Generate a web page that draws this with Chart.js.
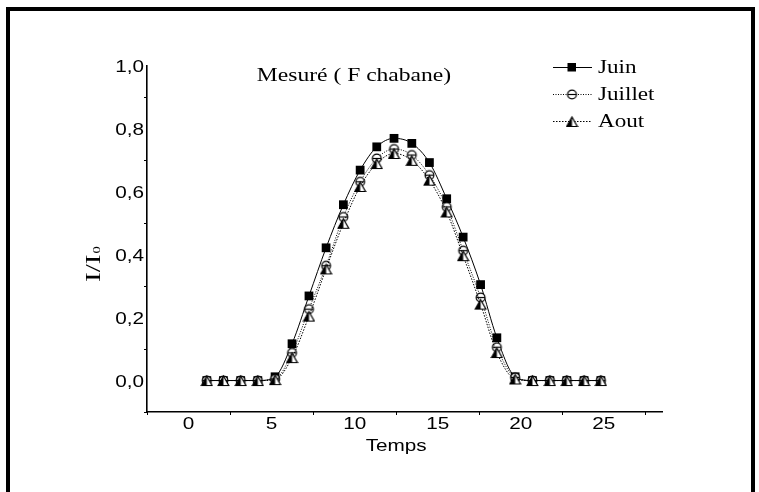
<!DOCTYPE html>
<html>
<head>
<meta charset="utf-8">
<script src="https://cdn.jsdelivr.net/npm/chart.js@4"></script>
<style>
  html, body { margin: 0; padding: 0; background: #fff; }
  #wrap { position: relative; width: 759px; height: 492px; overflow: hidden; }
  #frame { position: absolute; left: 6px; top: 7px; width: 749px; height: 600px; border: 4px solid #000; box-sizing: border-box; }
  #c { position: absolute; left: 0; top: 0; }
</style>
</head>
<body>
<div id="wrap">
  <div id="frame"></div>
  <canvas id="c" width="759" height="492"></canvas>
</div>
<script>
// Position of each reading on the Temps axis
const temps = [1.10, 2.10, 3.14, 4.17, 5.21, 6.23, 7.25, 8.28, 9.32, 10.33, 11.33, 12.37,
               13.44, 14.50, 15.54, 16.53, 17.58, 18.56, 19.66, 20.70, 21.75, 22.77, 23.81, 24.82];

// Measured relative intensity I/I0 per month
const juin    = [0, 0, 0, 0, 0.012, 0.117, 0.269, 0.422, 0.559, 0.669, 0.743, 0.770, 0.754, 0.693, 0.578, 0.456, 0.305, 0.136, 0.012, 0, 0, 0, 0, 0];
const juillet = [0, 0, 0, 0, 0.005, 0.088, 0.227, 0.365, 0.520, 0.632, 0.706, 0.736, 0.717, 0.653, 0.552, 0.413, 0.264, 0.106, 0.010, 0, 0, 0, 0, 0];
const aout    = [0, 0, 0, 0, 0.003, 0.073, 0.205, 0.355, 0.500, 0.617, 0.690, 0.722, 0.700, 0.637, 0.536, 0.397, 0.243, 0.089, 0.005, 0, 0, 0, 0, 0];

const seriesNames = ['Juin', 'Juillet', 'Aout'];
const xTickValues = [0, 5, 10, 15, 20, 25];
const yTickValues = [0, 0.2, 0.4, 0.6, 0.8, 1.0];

const chartTitle = 'Mesuré ( F chabane)';
const xTitle = 'Temps';

const SANS = '"Liberation Sans", Arial, sans-serif';
const SERIF = '"Liberation Serif", "Times New Roman", serif';
const fmtY = v => v.toFixed(1).replace('.', ',');
const fmtX = v => String(v);

// Open circle crossed by a horizontal bar
function circleMarker() {
  const s = 13, c = document.createElement('canvas');
  c.width = s; c.height = s;
  const g = c.getContext('2d');
  g.fillStyle = '#fff'; g.strokeStyle = '#000'; g.lineWidth = 1.2;
  g.beginPath(); g.arc(6.5, 6.5, 4.4, 0, Math.PI * 2); g.fill(); g.stroke();
  g.beginPath(); g.moveTo(2.2, 6.5); g.lineTo(10.8, 6.5); g.stroke();
  return c;
}
// Triangle, left half filled
function triangleMarker() {
  const s = 13, c = document.createElement('canvas');
  c.width = s; c.height = s;
  const g = c.getContext('2d');
  const tri = () => { g.beginPath(); g.moveTo(6.5, 2); g.lineTo(11.8, 11.5); g.lineTo(1.2, 11.5); g.closePath(); };
  g.fillStyle = '#fff'; g.strokeStyle = '#000'; g.lineWidth = 1.2;
  tri(); g.fill();
  g.fillStyle = '#000';
  g.beginPath(); g.moveTo(6.5, 2); g.lineTo(6.5, 11.5); g.lineTo(1.2, 11.5); g.closePath(); g.fill();
  tri(); g.stroke();
  return c;
}

const toPoints = arr => temps.map((t, i) => ({ x: t, y: arr[i] }));

const datasets = [
  { label: seriesNames[0], data: toPoints(juin), borderColor: '#000', backgroundColor: '#000', borderWidth: 1,
    pointStyle: 'rect', pointRadius: 6.2, pointBorderWidth: 0, cubicInterpolationMode: 'monotone', order: 3 },
  { label: seriesNames[1], data: toPoints(juillet), borderColor: '#000', backgroundColor: '#fff', borderWidth: 1,
    borderDash: [1, 1.5], pointStyle: circleMarker(), pointRadius: 6, cubicInterpolationMode: 'monotone', order: 2 },
  { label: seriesNames[2], data: toPoints(aout), borderColor: '#000', backgroundColor: '#fff', borderWidth: 1,
    borderDash: [1.5, 1.5], pointStyle: triangleMarker(), pointRadius: 6, cubicInterpolationMode: 'monotone', order: 1 }
];

// Text drawn with a slight horizontal widening
function wideText(ctx, str, x, y, font, align, sx) {
  ctx.save();
  ctx.font = font;
  const w = ctx.measureText(str).width * sx;
  const x0 = align === 'center' ? x - w / 2 : align === 'right' ? x - w : x;
  ctx.translate(x0, y);
  ctx.scale(sx, 1);
  ctx.textAlign = 'left';
  ctx.textBaseline = 'alphabetic';
  ctx.fillText(str, 0, 0);
  ctx.restore();
}

// Tick labels, minor ticks, titles and legend
const decorations = {
  id: 'decorations',
  afterDraw(chart) {
    const { ctx, chartArea: a, scales: { x, y } } = chart;
    const SX = 1.22;
    ctx.save();
    ctx.strokeStyle = '#000';
    ctx.fillStyle = '#000';
    ctx.lineWidth = 1;
    // minor ticks
    const yStep = yTickValues[1] - yTickValues[0];
    for (let v = yTickValues[0] - yStep / 2; v < y.max; v += yStep) {
      if (v < y.min) continue;
      const py = Math.round(y.getPixelForValue(v)) + 0.5;
      ctx.beginPath(); ctx.moveTo(a.left - 3, py); ctx.lineTo(a.left, py); ctx.stroke();
    }
    const xStep = xTickValues[1] - xTickValues[0];
    for (let v = xTickValues[0] - xStep / 2; v < x.max; v += xStep) {
      if (v < x.min) continue;
      const px = Math.round(x.getPixelForValue(v)) + 0.5;
      ctx.beginPath(); ctx.moveTo(px, a.bottom); ctx.lineTo(px, a.bottom + 3); ctx.stroke();
    }
    // tick labels
    const tickFont = '17px ' + SANS;
    y.ticks.forEach(t => {
      const py = y.getPixelForValue(t.value);
      wideText(ctx, t.label != null ? t.label : fmtY(t.value), a.left - 3, py + 6, tickFont, 'right', SX);
    });
    x.ticks.forEach(t => {
      const px = x.getPixelForValue(t.value);
      wideText(ctx, t.label != null ? String(t.label) : fmtX(t.value), px, a.bottom + 16.5, tickFont, 'center', SX);
    });
    // axis title
    wideText(ctx, xTitle, x.getPixelForValue(12.5), a.bottom + 39, '17px ' + SANS, 'center', SX);
    // chart title
    wideText(ctx, chartTitle, 354, 81, '19px ' + SERIF, 'center', 1.24);
    // y title I/I0
    ctx.save();
    ctx.translate(100, 282);
    ctx.rotate(-Math.PI / 2);
    ctx.scale(1.45, 1);
    ctx.textAlign = 'left';
    ctx.font = '20px ' + SERIF;
    ctx.fillText('I/I', 0, 0);
    const w = ctx.measureText('I/I').width;
    ctx.font = '10px ' + SERIF;
    ctx.fillText('0', w + 0.8, 0);
    ctx.restore();
    // legend
    const rows = [67, 94, 121];
    chart.data.datasets.forEach((ds, i) => {
      const yy = rows[i];
      ctx.save();
      ctx.lineWidth = 1;
      ctx.setLineDash(ds.borderDash || []);
      ctx.beginPath(); ctx.moveTo(553, yy + 0.5); ctx.lineTo(592, yy + 0.5); ctx.stroke();
      ctx.restore();
      if (ds.pointStyle === 'rect') {
        ctx.fillRect(567.5, yy - 4, 8.5, 8.5);
      } else {
        ctx.drawImage(ds.pointStyle, 565.5, yy - 6);
      }
      wideText(ctx, ds.label, 598, yy + 6, '18.5px ' + SERIF, 'left', 1.25);
    });
    ctx.restore();
  }
};

new Chart(document.getElementById('c'), {
  type: 'line',
  data: { datasets },
  options: {
    responsive: false,
    animation: false,
    devicePixelRatio: 1,
    layout: { padding: { left: 0, top: 66, right: 97, bottom: 20 } },
    plugins: { legend: { display: false }, tooltip: { enabled: false } },
    scales: {
      x: {
        type: 'linear',
        min: -2.5, max: 28.5,
        grid: { display: false, drawTicks: false },
        border: { display: true, color: '#000', width: 1.6 },
        ticks: { display: false, callback: fmtX },
        afterBuildTicks: s => { s.ticks = xTickValues.map(v => ({ value: v })); },
        afterFit: s => { s.height = 60; }
      },
      y: {
        type: 'linear',
        min: -0.1, max: 1.0,
        grid: { display: false, drawTicks: false },
        border: { display: true, color: '#000', width: 1.6 },
        ticks: { display: false, callback: fmtY },
        afterBuildTicks: s => { s.ticks = yTickValues.map(v => ({ value: v })); },
        afterFit: s => { s.width = 147; }
      }
    }
  },
  plugins: [decorations]
});
</script>
</body>
</html>
